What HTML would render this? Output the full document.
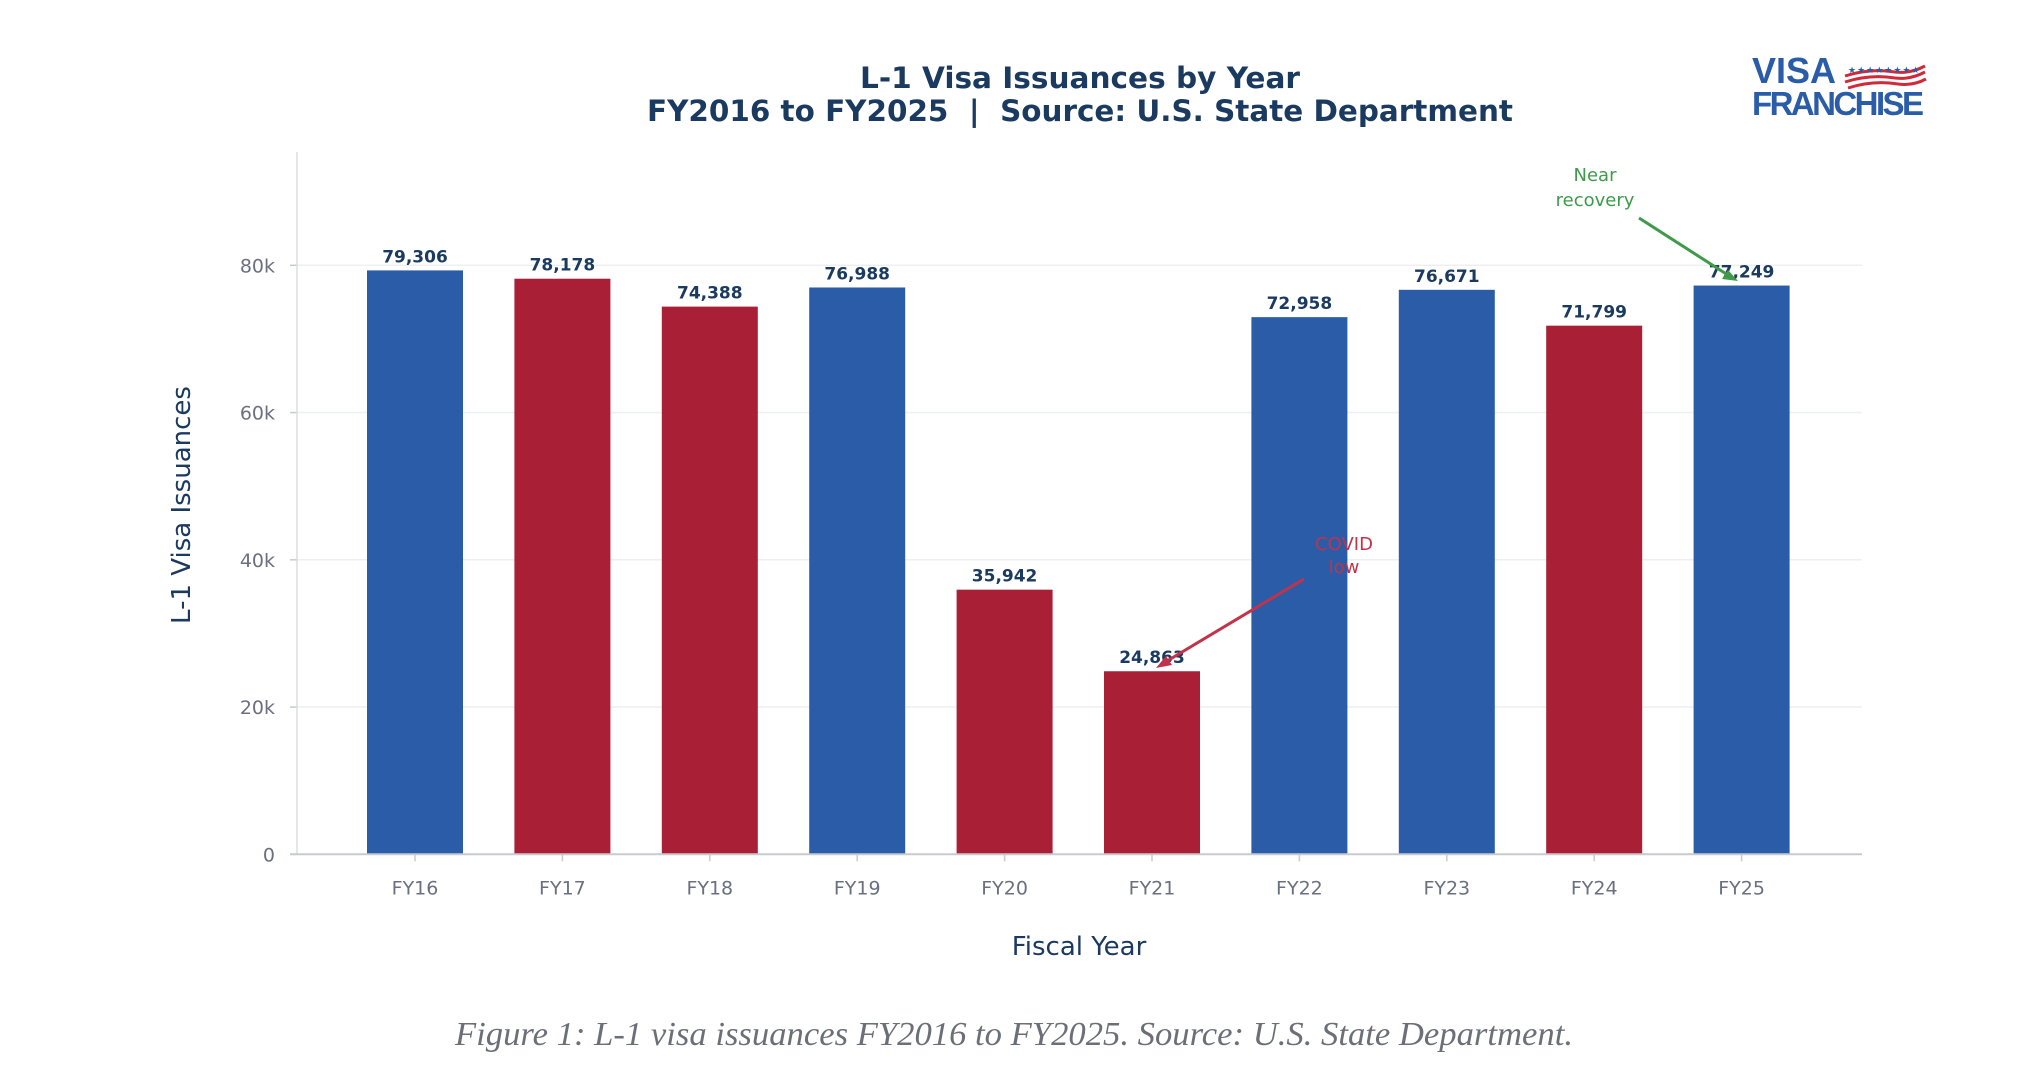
<!DOCTYPE html>
<html><head><meta charset="utf-8"><style>
html,body{margin:0;padding:0;background:#fff;}
svg{display:block;font-family:"DejaVu Sans","Liberation Sans",sans-serif;}
</style></head><body>
<svg id="chart" width="2039" height="1072" viewBox="0 0 2039 1072">
<rect width="2039" height="1072" fill="#fff"/>
<text x="1080" y="88" text-anchor="middle" font-size="29" font-weight="bold" fill="#1b3a60" textLength="440" lengthAdjust="spacingAndGlyphs">L-1 Visa Issuances by Year</text>
<text x="1080" y="121" text-anchor="middle" font-size="29" font-weight="bold" fill="#1b3a60" textLength="866" lengthAdjust="spacingAndGlyphs" xml:space="preserve">FY2016 to FY2025  |  Source: U.S. State Department</text>
<g>
<text x="1752" y="83" font-family="Liberation Sans, sans-serif" font-size="36" font-weight="bold" fill="#2a5ca8">VISA</text>
<text x="1752" y="115" font-family="Liberation Sans, sans-serif" font-size="33" font-weight="bold" fill="#2a5ca8" textLength="172">FRANCHISE</text>
<path d="M1845 76 q25 -8 50 -4 q15 2 30 -6" stroke="#d02a3a" stroke-width="3" fill="none"/>
<path d="M1845 82 q25 -8 50 -4 q15 2 30 -6" stroke="#d02a3a" stroke-width="3" fill="none"/>
<path d="M1848 88 q25 -8 50 -4 q15 2 28 -5" stroke="#d02a3a" stroke-width="3" fill="none"/>
<text x="1848" y="73" font-size="9" fill="#2a5ca8" letter-spacing="1">★★★★★★★★</text>
</g>
<g id="grid"></g>
<g id="bars"></g>
<g id="axes"></g>
<text transform="translate(190,505) rotate(-90)" text-anchor="middle" font-size="26" fill="#1b3a60">L-1 Visa Issuances</text>
<text x="1079" y="955" text-anchor="middle" font-size="26" fill="#1b3a60">Fiscal Year</text>
<g>
<text x="1344" y="550" text-anchor="middle" font-size="18" fill="#c0334a">COVID</text>
<text x="1344" y="573" text-anchor="middle" font-size="18" fill="#c0334a">low</text>
<line x1="1304" y1="579" x2="1162" y2="664" stroke="#c0334a" stroke-width="3"/>
<path d="M1156 668 l16 -3 l-6 -9 z" fill="#c0334a"/>
</g>
<g>
<text x="1595" y="181" text-anchor="middle" font-size="18" fill="#3f9a4a">Near</text>
<text x="1595" y="206" text-anchor="middle" font-size="18" fill="#3f9a4a">recovery</text>
<line x1="1639" y1="218" x2="1731" y2="277" stroke="#3f9a4a" stroke-width="3"/>
<path d="M1738 281 l-16 -2 l6 -9 z" fill="#3f9a4a"/>
</g>
<text x="1014" y="1045" text-anchor="middle" font-family="Liberation Serif, serif" font-style="italic" font-size="34" fill="#6b6f78" textLength="1118" lengthAdjust="spacingAndGlyphs">Figure 1: L-1 visa issuances FY2016 to FY2025. Source: U.S. State Department.</text>
</svg>
<script>
const categories = ["FY16","FY17","FY18","FY19","FY20","FY21","FY22","FY23","FY24","FY25"];
const values = [79306,78178,74388,76988,35942,24863,72958,76671,71799,77249];
const colorKeys = ["b","r","r","b","r","r","b","b","r","b"];
const yTicks = [0,20000,40000,60000,80000];
const yTickLabels = ["0","20k","40k","60k","80k"];
const NS="http://www.w3.org/2000/svg";
const L=297,R=1862,T=152,Y0=854.3,Y80=265.3;
const y=v=>Y0+(Y80-Y0)*v/80000;
const x=i=>415+i*147.4;
const BW=96;
const col={b:"#2a5ca8",r:"#a91f35"};
function mk(t,a,p){const e=document.createElementNS(NS,t);for(const k in a)e.setAttribute(k,a[k]);p.appendChild(e);return e;}
const grid=document.getElementById('grid'),bars=document.getElementById('bars'),axes=document.getElementById('axes');
yTicks.forEach((v,i)=>{
  if(v>0){const g=mk('line',{x1:L,x2:R,y1:y(v),y2:y(v),stroke:'#eeeff2','stroke-width':1.5},grid);
  
  }
  const tk=mk('line',{x1:L-7,x2:L,y1:y(v),y2:y(v),stroke:'#c8cad0','stroke-width':1.5},axes);
  
  
  const t=mk('text',{x:L-22,y:y(v)+7,'text-anchor':'end','font-size':19,fill:'#6b7080'},axes);
  t.textContent=yTickLabels[i];
  
  
});
mk('line',{x1:L,x2:L,y1:T,y2:Y0,stroke:'#dcdde2','stroke-width':1.5},axes);
mk('line',{x1:L-7,x2:R,y1:Y0,y2:Y0,stroke:'#c8cad0','stroke-width':2},axes);
categories.forEach((c,i)=>{
  const r=mk('rect',{x:x(i)-BW/2,y:y(values[i]),width:BW,height:Y0-y(values[i]),fill:col[colorKeys[i]]},bars);
  
  
  const lb=mk('text',{x:x(i),y:y(values[i])-8,'text-anchor':'middle','font-size':17,'font-weight':'bold',fill:'#1b3a60'},bars);
  lb.textContent=values[i].toLocaleString('en-US');
  
  
  mk('line',{x1:x(i),x2:x(i),y1:Y0,y2:Y0+7,stroke:'#c8cad0','stroke-width':1.5},axes);
  const t=mk('text',{x:x(i),y:Y0+40,'text-anchor':'middle','font-size':19,fill:'#6b7080'},axes);
  t.textContent=c;
  
  
});
</script>
</body></html>
